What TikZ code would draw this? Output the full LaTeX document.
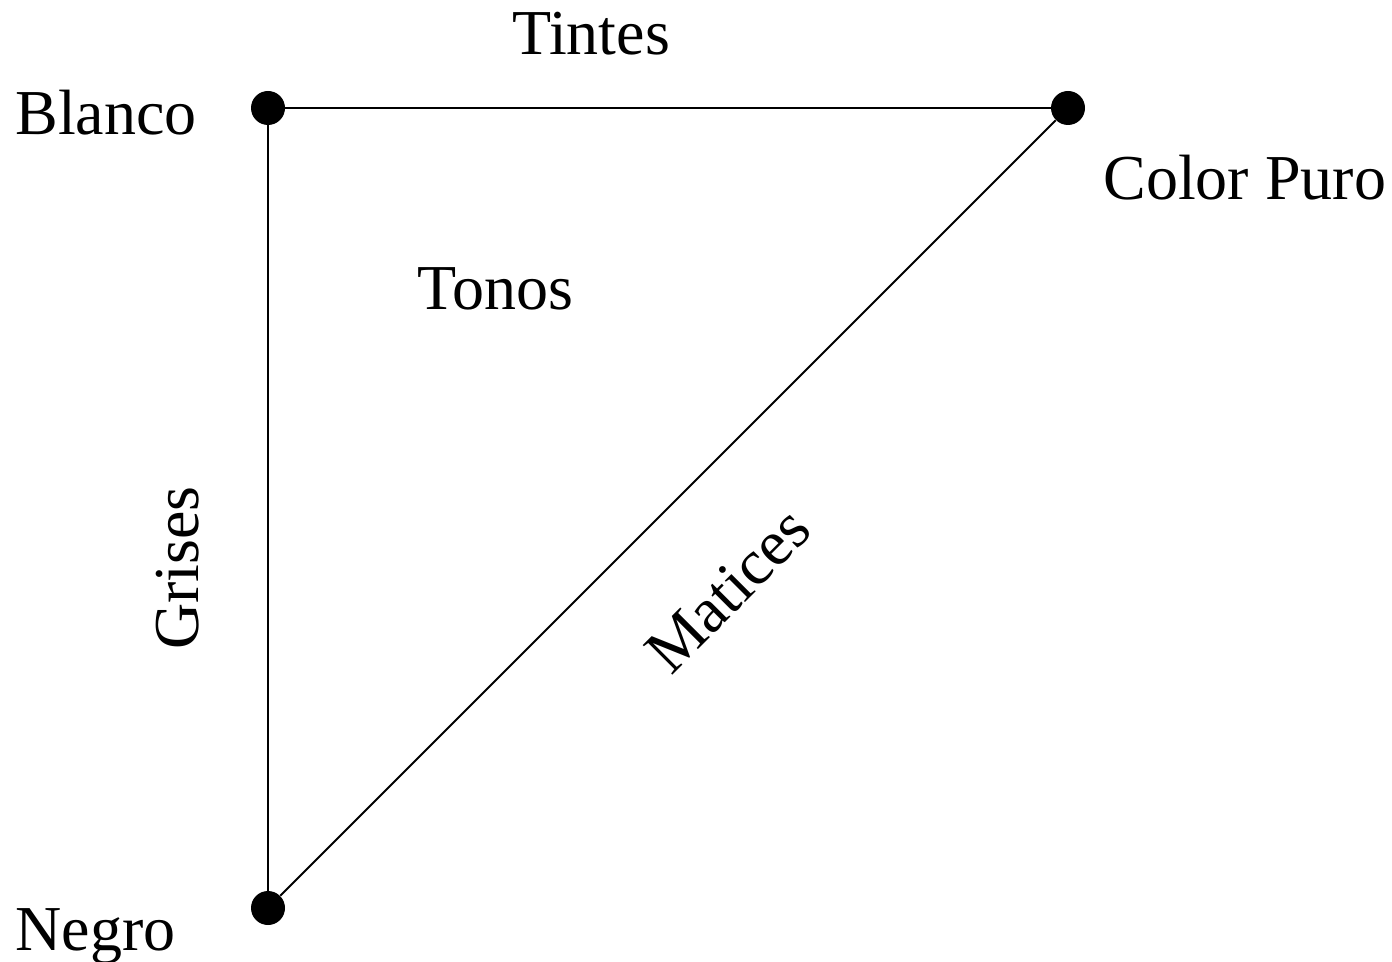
\documentclass[tikz,border=0pt]{standalone}
\usepackage{fontspec}
\setmainfont{Liberation Serif}
\begin{document}
\begin{tikzpicture}[x=0.5pt,y=-0.5pt,
  dot/.style={circle,fill=black,inner sep=0pt,minimum size=17pt},
  lbl/.style={inner sep=0pt,font=\fontsize{32}{38}\selectfont},
  edge/.style={line width=1pt}]
\useasboundingbox (0,0) rectangle (1392,962);
\node[dot] (w) at (268,108) {};
\node[dot] (p) at (1068,108) {};
\node[dot] (k) at (268,908) {};
\draw[edge] (w) -- (p);
\draw[edge] (w) -- (k);
\draw[edge] (k) -- (p);
\node[lbl,anchor=base west] (lw) at (15,135) {Blanco};
\node[lbl,anchor=base] (lt) at (591,55) {Tintes};
\node[lbl,anchor=base west] (lp) at (1103,200) {Color Puro};
\node[lbl,anchor=base west] (lo) at (417,310) {Tonos};
\node[lbl,anchor=base west] (lk) at (15,950) {Negro};
\node[lbl,rotate=90] (lg) at (178,568) {Grises};
\node[lbl,rotate=45] (lm) at (728,590) {Matices};
\end{tikzpicture}
\end{document}
